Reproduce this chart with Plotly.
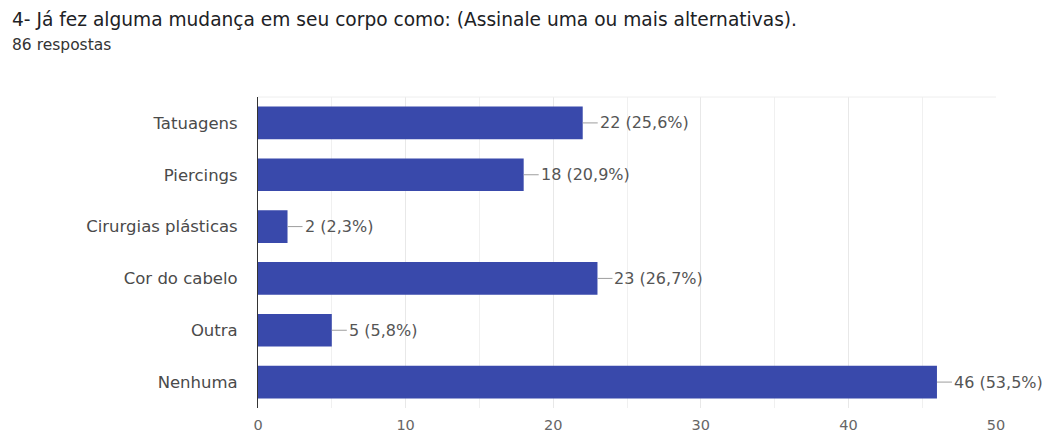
import plotly.graph_objects as go

categories = ["Tatuagens", "Piercings", "Cirurgias plásticas", "Cor do cabelo", "Outra", "Nenhuma"]
counts = [22, 18, 2, 23, 5, 46]
pct_labels = ["25,6%", "20,9%", "2,3%", "26,7%", "5,8%", "53,5%"]
x_ticks = [0, 10, 20, 30, 40, 50]

BAR = "#3949ab"
TXT = "#4a4a4a"
FONT = "DejaVu Sans, Arial"

fig = go.Figure()
fig.add_trace(go.Bar(
    y=categories, x=counts, orientation="h",
    marker=dict(color=BAR, line=dict(width=0)),
    hoverinfo="skip",
))

for c, v, p in zip(categories, counts, pct_labels):
    fig.add_annotation(
        x=v, y=c, xref="x", yref="y",
        text=f"{v} ({p})",
        showarrow=True, arrowhead=0, arrowwidth=1, arrowcolor="#9e9e9e",
        ax=15, ay=0, xanchor="left", yanchor="middle",
        font=dict(family=FONT, size=16, color="#555555"),
        borderpad=1,
    )

fig.add_shape(type="line", xref="paper", yref="paper", x0=0, x1=1, y0=1, y1=1,
              line=dict(color="#eeeeee", width=1))

fig.update_layout(
    width=1048, height=445,
    margin=dict(l=258, r=52, t=97, b=31),
    paper_bgcolor="white", plot_bgcolor="white",
    bargap=0.37,
    showlegend=False,
    font=dict(family=FONT, color=TXT),
)
fig.update_xaxes(
    range=[0, 50], tickvals=x_ticks, ticktext=[str(t) for t in x_ticks],
    showgrid=True, gridcolor="#e8e8e8", gridwidth=1,
    minor=dict(dtick=5, showgrid=True, gridcolor="#f0f0f0"),
    zeroline=False, showline=False,
    tickfont=dict(family=FONT, size=14.5, color="#666666"),
    ticks="", ticklabelstandoff=6,
)
fig.update_yaxes(
    autorange="reversed",
    showline=True, linecolor="#333333", linewidth=1,
    ticks="", ticklabelstandoff=16,
    tickfont=dict(family=FONT, size=16.5, color=TXT),
    showgrid=False,
)

fig.add_annotation(
    xref="paper", yref="paper", x=-248/738, y=1 + (97 - 18) / 317,
    text="4- Já fez alguma mudança em seu corpo como: (Assinale uma ou mais alternativas).",
    showarrow=False, xanchor="left", yanchor="middle",
    font=dict(family=FONT, size=18.6, color="#202124"),
)
fig.add_annotation(
    xref="paper", yref="paper", x=-248/738, y=1 + (97 - 44) / 317,
    text="86 respostas",
    showarrow=False, xanchor="left", yanchor="middle",
    font=dict(family=FONT, size=15.5, color="#333333"),
)

fig.write_html("out.html")
